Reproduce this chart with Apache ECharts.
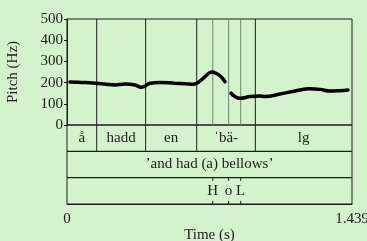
<!DOCTYPE html>
<html>
<head>
<meta charset="utf-8">
<script src="https://cdn.jsdelivr.net/npm/echarts@6/dist/echarts.min.js"></script>
<style>
html,body{margin:0;padding:0;background:#d3f2cd;}
#chart{width:367px;height:241px;}
</style>
</head>
<body>
<div id="chart"></div>
<script>
var timeMax = 1.439;

//基频曲线 (null = 断开)
var pitchTimes = [0.015, 0.056, 0.096, 0.146, 0.197, 0.242, 0.293, 0.343, 0.374, 0.394,
    0.419, 0.470, 0.545, 0.601, 0.636, 0.656, 0.687, 0.712, 0.732, 0.752, 0.778, 0.798,
    0.813,
    0.828, 0.848, 0.873, 0.924, 0.974, 1.000, 1.075, 1.151, 1.227, 1.277, 1.328, 1.378, 1.419];
var pitchValues = [203, 202, 200, 197, 192, 189, 193, 189, 178, 184,
    197, 201, 197, 194, 192, 197, 220, 241, 250, 244, 228, 204,
    null,
    150, 134, 126, 134, 137, 134, 146, 160, 171, 168, 160, 162, 165];
var pitchTicks = [0, 100, 200, 300, 400, 500];

//标注层
var wordBounds = [0.150, 0.397, 0.655, 0.951];
var wordLabels = ['å', 'hadd', 'en', 'ˈbä-', 'lg'];
var glossLabel = '’and had (a) bellows’';
var toneBounds = [0.736, 0.816, 0.877];
var toneLabels = ['H', 'o', 'L'];

var font = 'Liberation Serif, DejaVu Serif, serif';
var ink = '#1c1c1c';
var fs = 15;

function lineItem(color, width){
    return function(params, api){
        var p0 = api.coord([api.value(0), api.value(1)]);
        var p1 = api.coord([api.value(2), api.value(3)]);
        return {
            type: 'line',
            shape: {x1: p0[0], y1: p0[1], x2: p1[0], y2: p1[1]},
            style: {stroke: color, lineWidth: width}
        };
    };
}

var pitchData = pitchTimes.map(function(t, i){
    return [t, pitchValues[i]];
});

//竖线
var wordLinesTop = wordBounds.map(function(t){ return [t, 0, t, 500]; });
var toneLinesTop = toneBounds.map(function(t){ return [t, 0, t, 500]; });
var wordLinesTier = wordBounds.map(function(t){ return [t, 2, t, 3]; });
var tierLines = [[0, 1, timeMax, 1], [0, 2, timeMax, 2]];
var toneTicks = [];
toneBounds.forEach(function(t){
    toneTicks.push([t, 1, t, 0.88]);
    toneTicks.push([t, 0, t, 0.12]);
});

//文字
var edges = [0].concat(wordBounds).concat([timeMax]);
var tierTexts = wordLabels.map(function(s, i){
    return [(edges[i] + edges[i + 1]) / 2, 2.5, s];
});
tierTexts.push([timeMax / 2, 1.5, glossLabel]);
toneLabels.forEach(function(s, i){
    tierTexts.push([toneBounds[i], 0.5, s]);
});

function textItem(params, api){
    var p = api.coord([api.value(0), api.value(1)]);
    return {
        type: 'text',
        x: p[0],
        y: p[1],
        style: {
            text: tierTexts[params.dataIndex][2],
            fill: ink,
            font: fs + 'px ' + font,
            align: 'center',
            verticalAlign: 'middle'
        }
    };
}

var chart = echarts.init(document.getElementById('chart'));
chart.setOption({
    animation: false,
    backgroundColor: '#d3f2cd',
    textStyle: {fontFamily: font, color: ink},
    grid: [
        {left: 67, top: 19, width: 285, height: 106, outerBoundsMode: 'none', show: true, borderColor: ink, borderWidth: 1, backgroundColor: 'transparent'},
        {left: 67, top: 125, width: 285, height: 79, outerBoundsMode: 'none', show: true, borderColor: ink, borderWidth: 1, backgroundColor: 'transparent'}
    ],
    xAxis: [
        {gridIndex: 0, type: 'value', min: 0, max: timeMax, show: false},
        {
            gridIndex: 1, type: 'value', min: 0, max: timeMax,
            axisLine: {show: true, lineStyle: {color: ink}},
            axisTick: {show: false},
            splitLine: {show: false},
            axisLabel: {
                customValues: [0, timeMax],
                margin: 8,
                fontSize: fs,
                fontFamily: font,
                color: ink,
                formatter: function(v){ return v === 0 ? '0' : '1.439'; }
            },
            name: 'Time (s)',
            nameLocation: 'middle',
            nameGap: 23,
            nameTextStyle: {fontSize: fs, fontFamily: font, color: ink}
        }
    ],
    yAxis: [
        {
            gridIndex: 0, type: 'value', min: 0, max: 500, interval: 100,
            axisLine: {show: true, lineStyle: {color: ink}},
            axisTick: {show: true, length: 3, lineStyle: {color: ink}},
            splitLine: {show: false},
            axisLabel: {margin: 4, fontSize: fs, fontFamily: font, color: ink,
                customValues: pitchTicks},
            name: 'Pitch (Hz)',
            nameLocation: 'middle',
            nameGap: 46,
            nameTextStyle: {fontSize: fs, fontFamily: font, color: ink}
        },
        {gridIndex: 1, type: 'value', min: 0, max: 3, show: false}
    ],
    series: [
        {type: 'custom', xAxisIndex: 0, yAxisIndex: 0, renderItem: lineItem('#6f8a6f', 1), data: toneLinesTop, silent: true},
        {type: 'custom', xAxisIndex: 0, yAxisIndex: 0, renderItem: lineItem(ink, 1), data: wordLinesTop, silent: true},
        {
            type: 'line', xAxisIndex: 0, yAxisIndex: 0, data: pitchData,
            smooth: 0.4, showSymbol: false, connectNulls: false,
            lineStyle: {color: '#000', width: 3.5, cap: 'round'}
        },
        {type: 'custom', xAxisIndex: 1, yAxisIndex: 1, renderItem: lineItem(ink, 1), data: wordLinesTier, silent: true},
        {type: 'custom', xAxisIndex: 1, yAxisIndex: 1, renderItem: lineItem(ink, 1.4), data: tierLines, silent: true},
        {type: 'custom', xAxisIndex: 1, yAxisIndex: 1, renderItem: lineItem(ink, 1), data: toneTicks, silent: true},
        {type: 'custom', xAxisIndex: 1, yAxisIndex: 1, renderItem: textItem, data: tierTexts, silent: true}
    ]
});
</script>
</body>
</html>
